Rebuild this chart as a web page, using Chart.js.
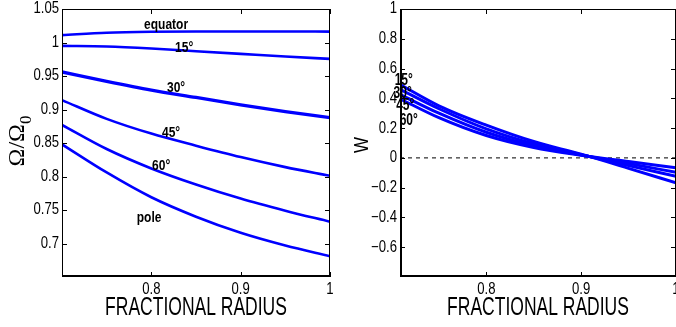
<!DOCTYPE html>
<html>
<head>
<meta charset="utf-8">
<script src="https://cdn.jsdelivr.net/npm/chart.js@4/dist/chart.umd.min.js"></script>
<style>
  html, body { margin: 0; padding: 0; background: #fff; }
  #wrap { position: relative; width: 676px; height: 327px; overflow: hidden; }
  .panel { position: absolute; top: 0; width: 338px; height: 327px; }
</style>
</head>
<body>
<div id="wrap">
  <div class="panel" style="left:0"><canvas id="omega" width="338" height="327"></canvas></div>
  <div class="panel" style="left:338px"><canvas id="wplot" width="338" height="327"></canvas></div>
</div>
<script>
// left panel: rotation rate vs radius
const radius = [0.7, 0.75, 0.8, 0.85, 0.9, 0.95, 1.0];
const equator = [1.011, 1.0145, 1.016, 1.0165, 1.0165, 1.0165, 1.0163];
const lat15 = [0.995, 0.994, 0.991, 0.987, 0.983, 0.979, 0.9755];
const lat30 = [0.956, 0.942, 0.929, 0.918, 0.907, 0.897, 0.888];
const lat45 = [0.914, 0.886, 0.864, 0.846, 0.829, 0.814, 0.801];
const lat60 = [0.877, 0.841, 0.812, 0.788, 0.767, 0.749, 0.7325];
const pole = [0.848, 0.806, 0.769, 0.740, 0.716, 0.697, 0.681];

// right panel: W vs radius
const radiusW = [0.709, 0.75, 0.8, 0.85, 0.9, 0.95, 1.0];
const w15 = [0.493, 0.35, 0.22, 0.11, 0.025, -0.07, -0.168];
const w30 = [0.460, 0.33, 0.195, 0.095, 0.022, -0.052, -0.124];
const w45 = [0.426, 0.30, 0.172, 0.082, 0.020, -0.038, -0.097];
const w60 = [0.397, 0.27, 0.150, 0.070, 0.018, -0.025, -0.067];

const xTicks = [0.8, 0.9, 1];
const omegaTicks = [0.7, 0.75, 0.8, 0.85, 0.9, 0.95, 1, 1.05];
const wTicks = [-0.6, -0.4, -0.2, 0, 0.2, 0.4, 0.6, 0.8, 1];

const omegaNames = ['equator', '15°', '30°', '45°', '60°', 'pole'];
const wNames = ['15°', '30°', '45°', '60°'];

// where the curve names sit, in data units
const omegaNameAt = [[0.8165, 1.026], [0.8367, 0.992], [0.8277, 0.932], [0.8221, 0.865], [0.811, 0.8156], [0.7975, 0.738]];
const wNameAt = [[0.7129, 0.52], [0.7118, 0.433], [0.7145, 0.352], [0.7182, 0.251]];

const BLUE = '#0000ff';
const SANS = '"Liberation Sans", Arial, sans-serif';
const SERIF = '"Liberation Serif", "Times New Roman", serif';

function pts(xs, ys) {
    return xs.map((x, i) => ({ x: x, y: ys[i] }));
}

function curve(xs, ys, width) {
    return {
        data: pts(xs, ys),
        borderColor: BLUE,
        borderWidth: width || 2.6,
        pointRadius: 0,
        cubicInterpolationMode: 'monotone',
        fill: false
    };
}

function squeeze(ctx, text, x, y, font, sx, align) {
    ctx.save();
    ctx.font = font;
    ctx.translate(x, y);
    ctx.scale(sx, 1);
    ctx.textAlign = align || 'center';
    ctx.textBaseline = 'middle';
    ctx.fillStyle = '#000';
    ctx.fillText(text, 0, 0);
    ctx.restore();
}

// box with inward ticks, squeezed tick labels, curve names and titles
function panelPlugin(cfg) {
    return {
        id: 'panel',
        afterDraw(chart) {
            const { ctx, chartArea: a, scales } = chart;
            const sx = scales.x, sy = scales.y;
            ctx.save();
            ctx.strokeStyle = '#000';
            ctx.lineWidth = 1;
            ctx.strokeRect(a.left + 0.5, a.top + 0.5, a.right - a.left - 1, a.bottom - a.top - 1);
            ctx.lineWidth = 2;
            ctx.beginPath();
            ctx.moveTo(a.left, a.bottom - 1);
            ctx.lineTo(a.right, a.bottom - 1);
            if (cfg.thickLeft) {
                ctx.moveTo(a.left + 1, a.top);
                ctx.lineTo(a.left + 1, a.bottom);
            }
            ctx.stroke();
            ctx.lineWidth = 1;
            ctx.beginPath();
            sx.ticks.forEach(t => {
                const px = Math.round(sx.getPixelForValue(t.value)) + 0.5;
                ctx.moveTo(px, a.bottom); ctx.lineTo(px, a.bottom - 5);
                ctx.moveTo(px, a.top); ctx.lineTo(px, a.top + 5);
            });
            sy.ticks.forEach(t => {
                const py = Math.round(sy.getPixelForValue(t.value)) + 0.5;
                ctx.moveTo(a.left, py); ctx.lineTo(a.left + 5, py);
                ctx.moveTo(a.right, py); ctx.lineTo(a.right - 5, py);
            });
            ctx.stroke();
            ctx.restore();

            const tf = '16px ' + SANS;
            sx.ticks.forEach(t => {
                squeeze(ctx, String(t.value), sx.getPixelForValue(t.value), a.bottom + 13, tf, 0.82);
            });
            sy.ticks.forEach(t => {
                squeeze(ctx, cfg.fmt(t.value), a.left - 3, sy.getPixelForValue(t.value), tf, 0.82, 'right');
            });

            cfg.names.forEach((n, i) => {
                const px = sx.getPixelForValue(cfg.at[i][0]);
                const py = sy.getPixelForValue(cfg.at[i][1]);
                squeeze(ctx, n, px, py, 'bold ' + cfg.nameSize + 'px ' + SANS, cfg.nameSqueeze);
            });
            squeeze(ctx, 'FRACTIONAL RADIUS', (a.left + a.right) / 2, 308, '25px ' + SANS, 0.7);
            cfg.yTitle(ctx);
        }
    };
}

function makeOptions(xmin, xmax, ymin, ymax, yTicks, padRight) {
    return {
        responsive: false,
        animation: false,
        layout: { padding: { top: 9, right: padRight, left: 0, bottom: 0 } },
        plugins: { legend: { display: false }, tooltip: { enabled: false } },
        scales: {
            x: {
                type: 'linear', min: xmin, max: xmax,
                afterBuildTicks: s => { s.ticks = xTicks.map(v => ({ value: v })); },
                afterFit: s => { s.height = 50; },
                grid: { display: false, drawTicks: false },
                border: { display: false },
                ticks: { display: false }
            },
            y: {
                type: 'linear', min: ymin, max: ymax,
                afterBuildTicks: s => { s.ticks = yTicks.map(v => ({ value: v })); },
                afterFit: s => { s.width = 62; },
                grid: { display: false, drawTicks: false },
                border: { display: false },
                ticks: { display: false }
            }
        }
    };
}

new Chart(document.getElementById('omega'), {
    type: 'line',
    data: {
        datasets: [
            curve(radius, equator),
            curve(radius, lat15),
            curve(radius, lat30, 3.3),
            curve(radius, lat45),
            curve(radius, lat60),
            curve(radius, pole)
        ]
    },
    options: makeOptions(0.7, 1.0, 0.65, 1.05, omegaTicks, 8),
    plugins: [panelPlugin({
        fmt: v => String(v), thickLeft: false,
        names: omegaNames, at: omegaNameAt, nameSize: 15, nameSqueeze: 0.8,
        yTitle: ctx => {
            ctx.save();
            ctx.translate(20, 141);
            ctx.rotate(-Math.PI / 2);
            ctx.fillStyle = '#000';
            ctx.textBaseline = 'middle';
            ctx.font = '24px ' + SERIF;
            const main = 'Ω/Ω';
            const wMain = ctx.measureText(main).width;
            ctx.font = '17px ' + SERIF;
            const wSub = ctx.measureText('0').width;
            const x0 = -(wMain + wSub) / 2;
            ctx.font = '24px ' + SERIF;
            ctx.fillText(main, x0, -2);
            ctx.font = '17px ' + SERIF;
            ctx.fillText('0', x0 + wMain, 7);
            ctx.restore();
        }
    })]
});

new Chart(document.getElementById('wplot'), {
    type: 'line',
    data: {
        datasets: [
            curve(radiusW, w15, 3),
            curve(radiusW, w30, 3),
            curve(radiusW, w45, 3),
            curve(radiusW, w60, 3),
            {
                data: pts([0.709, 1.0], [0, 0]),
                borderColor: '#000', borderWidth: 1, borderDash: [4, 4],
                pointRadius: 0, order: 10
            }
        ]
    },
    options: makeOptions(0.709, 1.0, -0.8, 1.0, wTicks, 0),
    plugins: [panelPlugin({
        fmt: v => String(v).replace('-', '\u2212'), thickLeft: true,
        names: wNames, at: wNameAt, nameSize: 16, nameSqueeze: 0.75,
        yTitle: ctx => {
            ctx.save();
            ctx.translate(24, 145);
            ctx.rotate(-Math.PI / 2);
            ctx.scale(0.85, 1);
            ctx.fillStyle = '#000';
            ctx.textAlign = 'center';
            ctx.textBaseline = 'middle';
            ctx.font = '20px ' + SANS;
            ctx.fillText('W', 0, 0);
            ctx.restore();
        }
    })]
});
</script>
</body>
</html>
